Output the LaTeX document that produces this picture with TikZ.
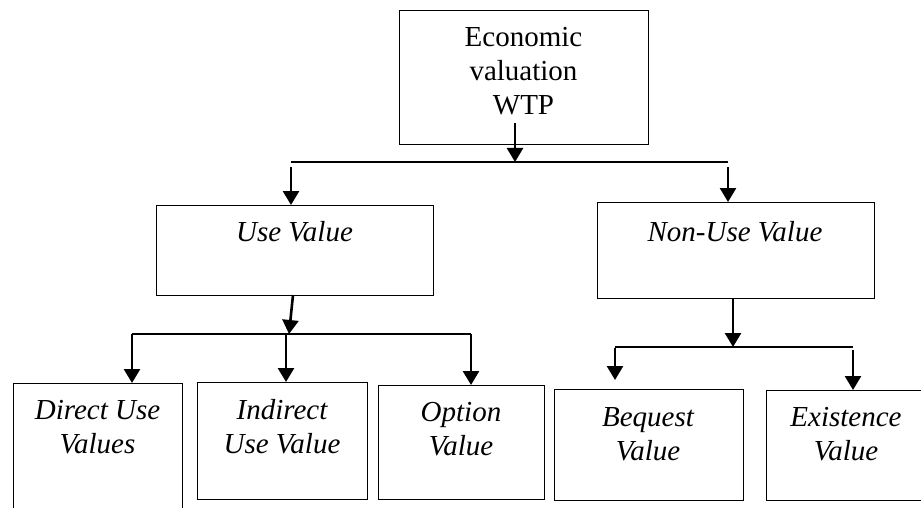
\documentclass[tikz,border=0pt]{standalone}
\usepackage{fontspec}
\setmainfont{Liberation Serif}
\usetikzlibrary{arrows.meta}
\begin{document}
\begin{tikzpicture}[x=1pt,y=-1pt,
  box/.style={draw, line width=1.2pt, inner sep=0pt, anchor=north west},
  lbl/.style={align=center, inner sep=0pt, anchor=base,
    font=\fontsize{29}{34}\selectfont},
  ilbl/.style={lbl, font=\fontsize{29}{33.5}\selectfont\itshape},
  branch/.style={line width=1.4pt},
  drop/.style={line width=2.6pt, -{Triangle[width=16pt,length=14pt]}}
]
\clip (0,0) rectangle (921,508);

% boxes
\node[box, minimum width=249, minimum height=134] (top)  at (399,10) {};
\node[box, minimum width=277, minimum height=90]  (use)  at (156,205) {};
\node[box, minimum width=277, minimum height=96]  (nonuse) at (597,202) {};
\node[box, minimum width=169, minimum height=147] (direct) at (13,383) {};
\node[box, minimum width=170, minimum height=117] (indirect) at (197,382) {};
\node[box, minimum width=166, minimum height=114] (option) at (378,385) {};
\node[box, minimum width=189, minimum height=111] (bequest) at (554,389) {};
\node[box, minimum width=160, minimum height=110] (existence) at (766,390) {};

% labels (anchored at the baseline of their last line)
\node[lbl]  (ttop) at (523.5,115) {Economic\\valuation\\WTP};
\node[ilbl] (tuse) at (294.5,241) {Use Value};
\node[ilbl] (tnonuse) at (735,241) {Non-Use Value};
\node[ilbl] (tdirect) at (97.5,453) {Direct Use\\Values};
\node[ilbl] (tindirect) at (282,453) {Indirect\\Use Value};
\node[ilbl] (toption) at (461,455) {Option\\Value};
\node[ilbl] (tbequest) at (648,460) {Bequest\\Value};
\node[ilbl] (texistence) at (846,460) {Existence\\Value};

% junction points
\coordinate (topout) at (515,123);
\coordinate (j1) at (515,162);
\coordinate (j1l) at (291,162);
\coordinate (j1r) at (728,162);
\coordinate (j1ls) at (291,167);
\coordinate (j1rs) at (728,167);
\coordinate (useout) at (293,295);
\coordinate (j2) at (289,334);
\coordinate (j2l) at (132,334);
\coordinate (j2m) at (286,334);
\coordinate (j2r) at (471,334);
\coordinate (nonuseout) at (733,298);
\coordinate (j3) at (733,347);
\coordinate (j3l) at (615,347);
\coordinate (j3r) at (853,347);
\coordinate (j3ls) at (615,348);
\coordinate (j3rs) at (853,350);
\coordinate (bequestin) at (615,380);

% connectors
\draw[drop] (topout) -- (j1);
\draw[branch] (j1l) -- (j1r);
\draw[drop] (j1ls) -- (j1ls |- use.north);
\draw[drop] (j1rs) -- (j1rs |- nonuse.north);

\draw[drop] (useout) -- (j2);
\draw[branch] (j2l) -- (j2r);
\draw[drop] (j2l) -- (j2l |- direct.north);
\draw[drop] (j2m) -- (j2m |- indirect.north);
\draw[drop] (j2r) -- (j2r |- option.north);

\draw[drop] (nonuseout) -- (j3);
\draw[branch] (j3l) -- (j3r);
\draw[drop] (j3ls) -- (bequestin);
\draw[drop] (j3rs) -- (j3rs |- existence.north);
\end{tikzpicture}
\end{document}
